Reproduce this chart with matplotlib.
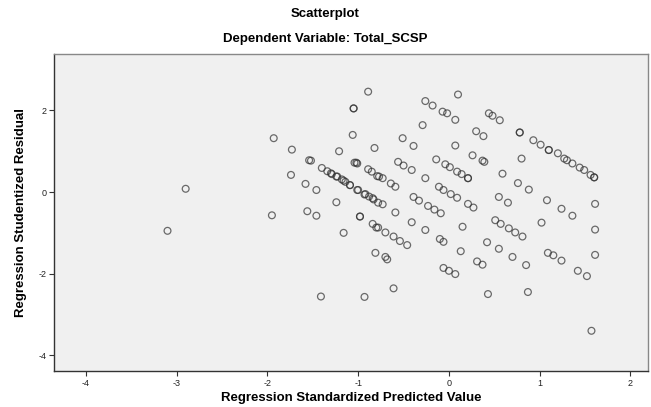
import matplotlib.pyplot as plt

# values (predicted value, studentized residual)
pred = [-3.10, -2.90, -1.95, -1.93, -1.74, -1.73, -1.58, -1.56, -1.54, -1.52,
        -1.46, -1.46, -1.41, -1.40, -1.34, -1.30, -1.29, -1.24, -1.23, -1.24,
        -1.21, -1.18, -1.16, -1.16, -1.14, -1.09, -1.09, -1.06, -1.05, -1.05,
        -1.04, -1.02, -1.01, -1.01, -1.00, -0.98, -0.98, -0.93, -0.93, -0.92,
        -0.89, -0.89, -0.88, -0.85, -0.84, -0.84, -0.83, -0.82, -0.81, -0.80,
        -0.79, -0.78, -0.78, -0.77, -0.73, -0.73, -0.70, -0.70, -0.68, -0.64,
        -0.61, -0.61, -0.59, -0.59, -0.56, -0.54, -0.51, -0.50, -0.46, -0.41,
        -0.41, -0.39, -0.39, -0.33, -0.29, -0.26, -0.26, -0.26, -0.23, -0.18,
        -0.16, -0.14, -0.11, -0.10, -0.09, -0.07, -0.06, -0.06, -0.06, -0.04,
        -0.02, 0.00, 0.01, 0.02, 0.07, 0.07, 0.07, 0.09, 0.09, 0.10,
        0.13, 0.14, 0.15, 0.21, 0.21, 0.21, 0.26, 0.27, 0.30, 0.31,
        0.37, 0.37, 0.38, 0.39, 0.42, 0.43, 0.44, 0.48, 0.51, 0.55,
        0.55, 0.56, 0.57, 0.59, 0.65, 0.66, 0.70, 0.73, 0.76, 0.78,
        0.78, 0.80, 0.81, 0.85, 0.87, 0.88, 0.93, 1.01, 1.02, 1.08,
        1.09, 1.10, 1.10, 1.15, 1.20, 1.24, 1.24, 1.27, 1.30, 1.36,
        1.36, 1.42, 1.44, 1.49, 1.52, 1.56, 1.57, 1.60, 1.60, 1.61,
        1.61, 1.61]
resid = [-0.95, 0.08, -0.57, 1.32, 0.42, 1.04, 0.20, -0.47, 0.78, 0.77,
         0.05, -0.58, -2.56, 0.59, 0.51, 0.46, 0.44, 0.38, 0.38, -0.25,
         1.00, 0.31, 0.28, -1.00, 0.25, 0.17, 0.17, 1.40, 2.05, 2.05,
         0.72, 0.72, 0.70, 0.05, 0.05, -0.60, -0.60, -2.57, -0.06, -0.05,
         2.46, 0.56, -0.11, 0.50, -0.15, -0.78, -0.18, 1.08, -1.49, -0.87,
         0.39, -0.26, -0.87, 0.38, 0.34, -0.30, -0.99, -1.59, -1.65, 0.21,
         -1.09, -2.36, 0.13, -0.50, 0.74, -1.20, 1.32, 0.65, -1.30, 0.54,
         -0.74, 1.13, -0.12, -0.21, 1.64, 2.23, 0.34, -0.93, -0.34, 2.12,
         -0.43, 0.80, 0.13, -1.15, -0.52, 1.97, 0.05, -1.22, -1.86, 0.68,
         1.93, -1.93, 0.61, -0.05, 1.77, 1.14, -2.01, 0.50, -0.14, 2.39,
         -1.45, 0.44, -0.85, 0.34, 0.34, -0.29, 0.90, -0.38, 1.49, -1.70,
         0.77, -1.78, 1.37, 0.74, -1.23, -2.50, 1.93, 1.87, -0.69, -0.12,
         -1.39, 1.76, -0.78, 0.45, -0.26, -0.89, -1.59, -0.99, 0.22, 1.46,
         1.46, 0.82, -1.09, -1.79, -2.45, 0.06, 1.27, 1.16, -0.75, -0.20,
         -1.49, 1.03, 1.03, -1.55, 0.95, -0.41, -1.68, 0.82, 0.78, 0.70,
         -0.58, -1.93, 0.60, 0.54, -2.06, 0.42, -3.40, 0.36, 0.36, -0.29,
         -0.92, -1.54]

xticks = [-4, -3, -2, -1, 0, 1, 2]
yticks = [-4, -2, 0, 2]

plt.rcParams['font.family'] = ['Liberation Sans', 'DejaVu Sans']
plt.rcParams['axes.unicode_minus'] = False

fig = plt.figure(figsize=(6.51, 4.07), dpi=100)
ax = fig.add_axes([0.083, 0.088, 0.912, 0.779])
ax.set_facecolor('#f0f0f0')

ax.scatter(pred, resid, s=24, facecolors='none', edgecolors='#303030',
           linewidths=0.9, alpha=0.7)

ax.set_xlim(-4.35, 2.19)
ax.set_ylim(-4.39, 3.38)
ax.set_xticks(xticks)
ax.set_yticks(yticks)
ax.tick_params(labelsize=6.5, length=3.5, width=0.8, color='#333333',
               labelcolor='#222222', pad=2)

for side in ['left', 'bottom']:
    ax.spines[side].set_color('#333333')
    ax.spines[side].set_linewidth(1.0)
for side in ['top', 'right']:
    ax.spines[side].set_color('#888888')
    ax.spines[side].set_linewidth(1.0)

ax.set_xlabel('Regression Standardized Predicted Value', fontsize=9.5,
              fontweight='bold', labelpad=3)
ax.set_ylabel('Regression Studentized Residual', fontsize=9.5,
              fontweight='bold', labelpad=8)

fig.text(0.5, 0.965, 'Scatterplot', ha='center', va='center',
         fontsize=9.5, fontweight='bold')
fig.text(0.5, 0.905, 'Dependent Variable: Total_SCSP', ha='center', va='center',
         fontsize=9.5, fontweight='bold')

fig.savefig('out.png', dpi=100)
